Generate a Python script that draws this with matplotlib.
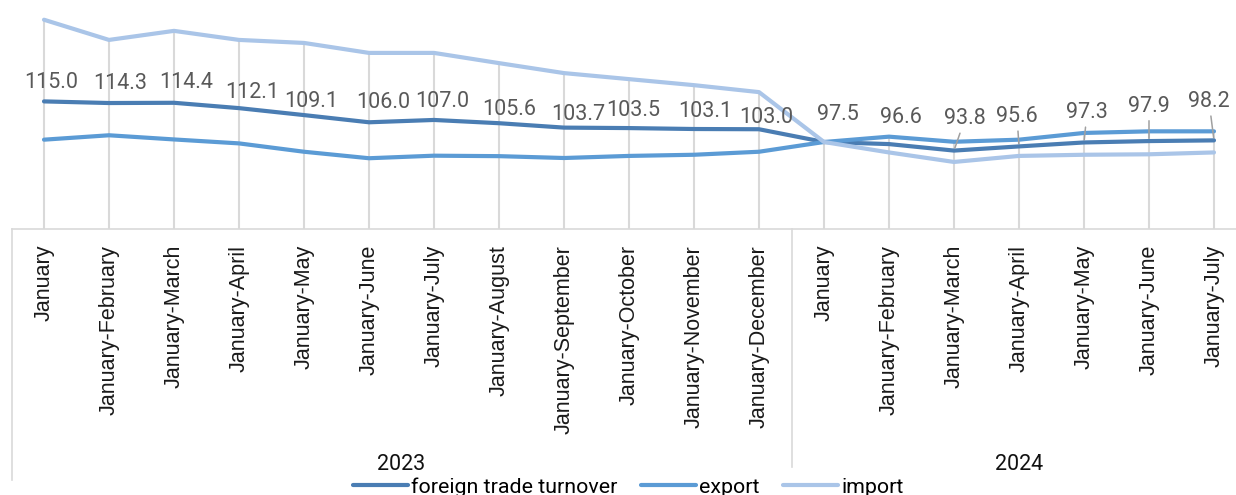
import matplotlib.pyplot as plt
from matplotlib.transforms import blended_transform_factory

# data
categories = ['January', 'January-February', 'January-March', 'January-April',
              'January-May', 'January-June', 'January-July', 'January-August',
              'January-September', 'January-October', 'January-November',
              'January-December',
              'January', 'January-February', 'January-March', 'January-April',
              'January-May', 'January-June', 'January-July']
years = ['2023', '2024']
year_sizes = [12, 7]

turnover = [115.0, 114.3, 114.4, 112.1, 109.1, 106.0, 107.0, 105.6, 103.7, 103.5,
            103.1, 103.0, 97.5, 96.6, 93.8, 95.6, 97.3, 97.9, 98.2]
export = [98.5, 100.4, 98.6, 96.9, 93.3, 90.5, 91.6, 91.4, 90.6, 91.5,
          92.0, 93.3, 97.5, 99.8, 97.6, 98.5, 101.4, 102.1, 102.1]
imports = [150.2, 141.5, 145.4, 141.5, 140.2, 135.9, 135.9, 131.5, 127.2, 124.6,
           122.0, 119.0, 97.5, 93.0, 88.9, 91.5, 92.0, 92.2, 93.0]

# label placement (pixels right / up from the point), and which get a leader line
label_offsets = [(7, 19), (11, 20), (12, 20), (13, 16), (7, 14), (14, 20), (8, 18),
                 (10, 14), (14, 13), (4, 18), (11, 18), (7, 12), (14, 28), (12, 27),
                 (11, 32), (-2, 30), (3, 30), (0, 35), (-5, 39)]
leaders = [False] * 14 + [True] * 5

c_turn = '#4a7db3'
c_exp = '#5b9bd5'
c_imp = '#aac5e8'
grid_c = '#d9d9d9'

W, H = 1236, 495
fig = plt.figure(figsize=(W / 100, H / 100), dpi=100)
ax = fig.add_axes([11.5 / W, (H - 229) / H, 1235 / W, 232 / H])

x = list(range(len(categories)))

# drop lines from the highest series down to the axis
tops = [max(a, b, c) for a, b, c in zip(turnover, export, imports)]
ax.vlines(x, 60, tops, color=grid_c, lw=1.5, zorder=1)

ax.plot(x, turnover, color=c_turn, lw=3, solid_capstyle='round', zorder=3,
        label='foreign trade turnover')
ax.plot(x, export, color=c_exp, lw=3, solid_capstyle='round', zorder=3, label='export')
ax.plot(x, imports, color=c_imp, lw=3, solid_capstyle='round', zorder=3, label='import')

for i, v in enumerate(turnover):
    dx, dy = label_offsets[i]
    arrow = dict(arrowstyle='-', color='#a0a0a0', lw=1.1, shrinkA=1, shrinkB=2) if leaders[i] else None
    ax.annotate(f'{v:.1f}', xy=(i, v), xytext=(dx, dy), textcoords='offset pixels',
                ha='center', va='center', fontsize=15.5, family='Roboto',
                color='#595959', arrowprops=arrow, zorder=4)

ax.set_xlim(-0.5, len(categories) - 0.5)
ax.set_ylim(60, 160)
ax.set_yticks([])
ax.set_xticks(x)
ax.set_xticklabels(categories, rotation=90, ha='center', va='top',
                   fontsize=15.5, family='Liberation Sans', color='#1a1a1a')
ax.tick_params(axis='x', length=0, pad=11.5)
for s in ['top', 'left', 'right']:
    ax.spines[s].set_visible(False)
ax.spines['bottom'].set_color(grid_c)
ax.spines['bottom'].set_linewidth(1.2)

# group boxes for the years
tr = blended_transform_factory(ax.transData, ax.transAxes)
ax.plot([-0.5, -0.5], [0, -(480 - 229) / 232], color=grid_c, lw=1.2,
        transform=tr, clip_on=False)
start = -0.5
for yr, n in zip(years, year_sizes):
    end = start + n
    ax.text((start + end) / 2, -(465 - 229) / 232, yr, transform=tr, ha='center',
            va='center', fontsize=15.5, family='Roboto', color='#111111')
    if end < len(categories) - 0.5:
        ax.plot([end, end], [0, -(467 - 229) / 232], color=grid_c, lw=1.2,
                transform=tr, clip_on=False)
    start = end

fig.legend(loc='center', bbox_to_anchor=(628 / W, 1 - 487 / H), ncol=3,
           frameon=False, prop={'family': 'Roboto', 'size': 15.4},
           handlelength=2.6, handletextpad=0.12, columnspacing=1.1, borderpad=0)

fig.savefig('out.png', dpi=100)
